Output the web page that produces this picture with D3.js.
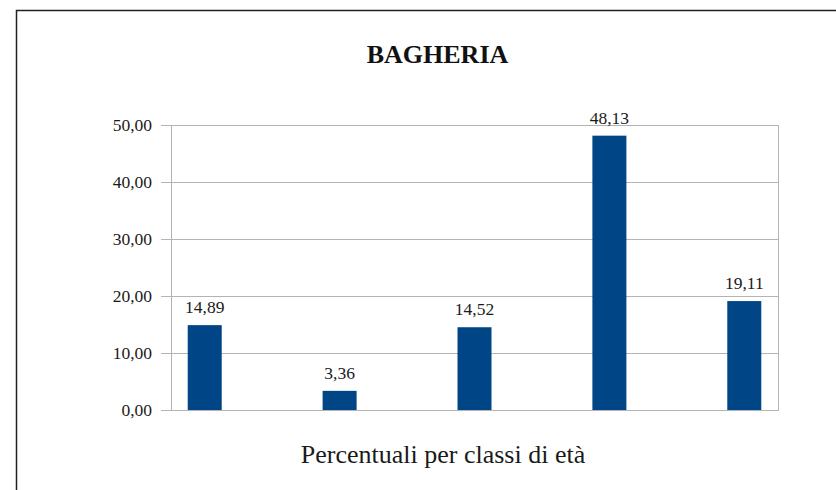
<!DOCTYPE html>
<html>
<head>
<meta charset="utf-8">
<script src="https://cdn.jsdelivr.net/npm/d3@7"></script>
<style>
  html, body { margin: 0; padding: 0; background: #fff; }
  svg { display: block; }
</style>
</head>
<body>
<svg id="chart" width="836" height="490"></svg>
<script>
const categories = ["Classe 1", "Classe 2", "Classe 3", "Classe 4", "Classe 5"];
const values = [14.89, 3.36, 14.52, 48.13, 19.11];
const yTicks = [0, 10, 20, 30, 40, 50];
const title = "BAGHERIA";
const xTitle = "Percentuali per classi di età";

const FONT = "'Liberation Serif', 'Times New Roman', Times, serif";
const svg = d3.select("#chart");
const fmt = v => d3.format(".2f")(v).replace(".", ",");

// outer frame (extends beyond the visible window)
svg.append("rect")
  .attr("x", 16.5).attr("y", 10.5)
  .attr("width", 1000).attr("height", 1000)
  .attr("fill", "none").attr("stroke", "#222").attr("stroke-width", 1.5);

const plot = { left: 171, right: 778, top: 125, bottom: 410 };

const x = d3.scalePoint().domain(categories)
  .range([plot.left, plot.right]).padding(0.25);
const y = d3.scaleLinear().domain([0, 50]).range([plot.bottom, plot.top]);

// grid lines
svg.append("g").selectAll("line").data(yTicks).join("line")
  .attr("x1", plot.left - 10).attr("x2", plot.right)
  .attr("y1", d => Math.round(y(d)) + 0.5).attr("y2", d => Math.round(y(d)) + 0.5)
  .attr("stroke", "#b3b3b3").attr("stroke-width", 1);

// vertical axis line and right border
svg.append("line")
  .attr("x1", plot.left + 0.5).attr("x2", plot.left + 0.5)
  .attr("y1", plot.top).attr("y2", plot.bottom)
  .attr("stroke", "#b3b3b3");
svg.append("line")
  .attr("x1", plot.right + 0.5).attr("x2", plot.right + 0.5)
  .attr("y1", plot.top).attr("y2", plot.bottom + 1)
  .attr("stroke", "#b3b3b3");

// y tick labels
svg.append("g").selectAll("text").data(yTicks).join("text")
  .attr("x", 152).attr("y", d => y(d) + 6)
  .attr("text-anchor", "end")
  .attr("font-family", FONT)
  .attr("font-size", 17.5)
  .attr("fill", "#1a1a1a")
  .text(d => fmt(d));

// bars
const barW = 34;
svg.append("g").selectAll("rect").data(values).join("rect")
  .attr("x", (d, i) => x(categories[i]) - barW / 2)
  .attr("y", d => y(d))
  .attr("width", barW)
  .attr("height", d => y(0) - y(d))
  .attr("fill", "#004586");

// baseline above bars
svg.append("line")
  .attr("x1", plot.left - 10).attr("x2", plot.right + 1)
  .attr("y1", plot.bottom + 0.5).attr("y2", plot.bottom + 0.5)
  .attr("stroke", "#b3b3b3");

// value labels
svg.append("g").selectAll("text").data(values).join("text")
  .attr("x", (d, i) => x(categories[i]))
  .attr("y", d => y(d) - 12)
  .attr("text-anchor", "middle")
  .attr("font-family", FONT)
  .attr("font-size", 17.5)
  .attr("fill", "#1a1a1a")
  .text(d => fmt(d));

// title
svg.append("text")
  .attr("x", 437.5).attr("y", 63)
  .attr("text-anchor", "middle")
  .attr("font-family", FONT)
  .attr("font-size", 26).attr("font-weight", "bold")
  .attr("fill", "#111")
  .text(title);

// x axis title
svg.append("text")
  .attr("x", 443).attr("y", 463)
  .attr("text-anchor", "middle")
  .attr("font-family", FONT)
  .attr("font-size", 26)
  .attr("fill", "#1a1a1a")
  .text(xTitle);
</script>
</body>
</html>
